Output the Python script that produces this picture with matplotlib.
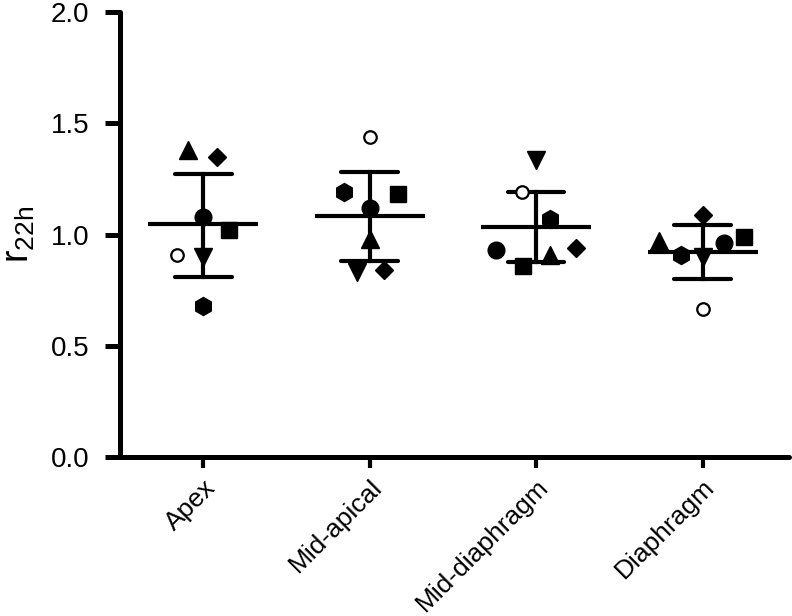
import matplotlib
matplotlib.use("Agg")
import matplotlib.pyplot as plt
import numpy as np

plt.rcParams["font.family"] = ["Liberation Sans", "DejaVu Sans"]
plt.rcParams["mathtext.fontset"] = "custom"
plt.rcParams["mathtext.rm"] = "Liberation Sans"

# data
regions = ["Apex", "Mid-apical", "Mid-diaphragm", "Diaphragm"]
# per subject, one value per region
filled_circle = [1.08, 1.12, 0.93, 0.96]
square = [1.02, 1.18, 0.86, 0.99]
triangle_up = [1.38, 0.98, 0.91, 0.97]
triangle_down = [0.90, 0.83, 1.335, 0.90]
diamond = [1.35, 0.84, 0.94, 1.087]
hexagon = [0.68, 1.19, 1.07, 0.91]
open_circle = [0.91, 1.44, 1.19, 0.665]

mean_vals = [1.047, 1.083, 1.034, 0.92]
sd_upper = [1.27, 1.28, 1.19, 1.043]
sd_lower = [0.81, 0.88, 0.875, 0.80]

# horizontal scatter offsets of each subject in each group (layout)
offsets = {
    "filled_circle": [0.0, 0.0, -0.24, 0.13],
    "square": [0.156, 0.168, -0.078, 0.25],
    "triangle_up": [-0.09, 0.0, 0.084, -0.26],
    "triangle_down": [0.0, -0.075, 0.0, 0.0],
    "diamond": [0.084, 0.084, 0.24, 0.0],
    "hexagon": [0.0, -0.156, 0.084, -0.13],
    "open_circle": [-0.156, 0.0, -0.084, 0.0],
}

series = [
    ("filled_circle", filled_circle, dict(marker="o", ms=12, mfc="black")),
    ("square", square, dict(marker="s", ms=11, mfc="black")),
    ("triangle_up", triangle_up, dict(marker="^", ms=13, mfc="black")),
    ("triangle_down", triangle_down, dict(marker="v", ms=13, mfc="black")),
    ("diamond", diamond, dict(marker="D", ms=9, mfc="black")),
    ("hexagon", hexagon, dict(marker="h", ms=13, mfc="black")),
    ("open_circle", open_circle, dict(marker="o", ms=9, mfc="white", mew=1.6)),
]

fig = plt.figure(figsize=(7.92, 6.16), dpi=100)
ax = fig.add_axes([0.1515, 0.258, 0.845, 0.7225])

x = np.arange(len(regions))

for name, vals, style in series:
    ax.plot(x + np.array(offsets[name]), vals, linestyle="none",
            color="black", mec="black", zorder=3, **style)

# mean line and SD error bars
for xi, m, hi, lo in zip(x, mean_vals, sd_upper, sd_lower):
    ax.plot([xi - 0.33, xi + 0.33], [m, m], color="black", lw=3, zorder=2,
            solid_capstyle="butt")
    ax.plot([xi, xi], [lo, hi], color="black", lw=3, zorder=2)
    ax.plot([xi - 0.17, xi + 0.17], [hi, hi], color="black", lw=3, zorder=2,
            solid_capstyle="round")
    ax.plot([xi - 0.17, xi + 0.17], [lo, lo], color="black", lw=3, zorder=2,
            solid_capstyle="round")

ax.set_xlim(-0.5, 3.52)
ax.set_ylim(0, 2.0)
ax.set_yticks([0.0, 0.5, 1.0, 1.5, 2.0])
ax.set_yticklabels(["0.0", "0.5", "1.0", "1.5", "2.0"])
ax.set_xticks(x)
ax.set_xticklabels(regions, rotation=45, ha="right", rotation_mode="anchor")

for side in ["top", "right"]:
    ax.spines[side].set_visible(False)
for side in ["left", "bottom"]:
    ax.spines[side].set_linewidth(3.6)
    ax.spines[side].set_capstyle("round")

ax.tick_params(axis="y", direction="out", length=11, width=3.6, labelsize=20,
               pad=11)
ax.tick_params(axis="x", direction="out", length=8, width=3.0, labelsize=19,
               pad=5)
ax.set_ylabel(r"r$_{\mathregular{22h}}$", fontsize=27, labelpad=10)

fig.savefig("out.png", dpi=100)
